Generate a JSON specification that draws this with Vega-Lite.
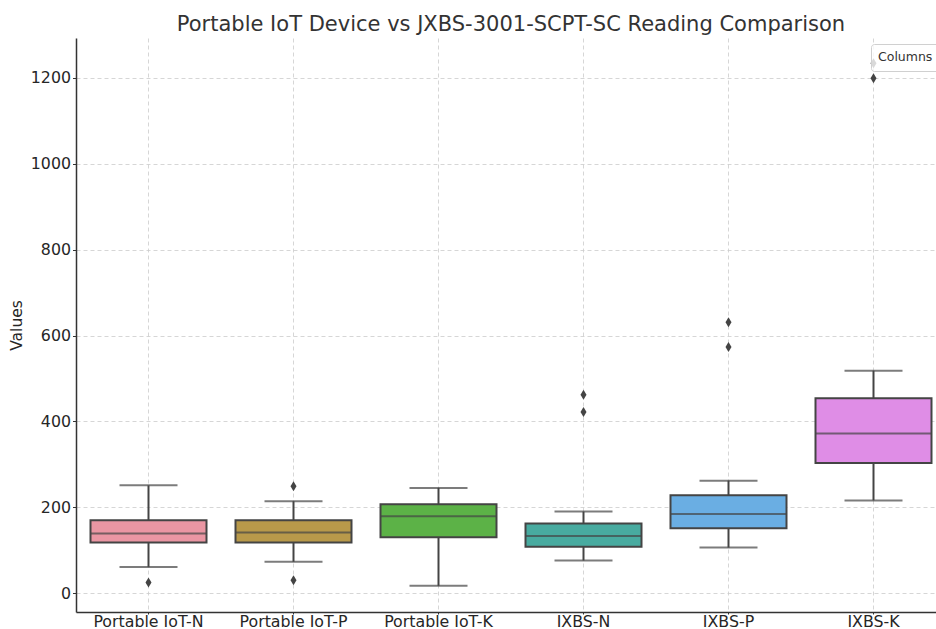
{
  "$schema": "https://vega.github.io/schema/vega-lite/v6.json",
  "width": 870,
  "height": 574,
  "padding": {"left": 9, "top": 14, "right": 0, "bottom": 0},
  "title": {"text": "Portable IoT Device vs JXBS-3001-SCPT-SC Reading Comparison", "fontSize": 21, "font": "DejaVu Sans", "fontWeight": "normal", "color": "#333333", "offset": 3},
  "config": {
    "font": "DejaVu Sans",
    "view": {"stroke": null},
    "axis": {"labelFont": "DejaVu Sans", "titleFont": "DejaVu Sans", "labelFontSize": 15.8, "titleFontSize": 15.5, "labelColor": "#262626", "titleColor": "#262626", "titleFontWeight": "normal", "gridColor": "#cccccc", "gridDash": [4, 3], "gridWidth": 0.8, "domainColor": "#333333", "domainWidth": 1.5, "tickColor": "#333333", "tickSize": 3.5, "tickWidth": 1}
  },
  "datasets": {
    "stats": [
      {"col": "Portable IoT-N", "lo": 61, "q1": 118, "med": 139, "q3": 170, "hi": 251},
      {"col": "Portable IoT-P", "lo": 73, "q1": 118, "med": 141, "q3": 170, "hi": 214},
      {"col": "Portable IoT-K", "lo": 17, "q1": 130, "med": 179, "q3": 207, "hi": 245},
      {"col": "IXBS-N", "lo": 76, "q1": 108, "med": 133, "q3": 162, "hi": 190},
      {"col": "IXBS-P", "lo": 106, "q1": 151, "med": 184, "q3": 228, "hi": 262},
      {"col": "IXBS-K", "lo": 216, "q1": 303, "med": 372, "q3": 454, "hi": 518}
    ],
    "outliers": [
      {"col": "Portable IoT-N", "value": 25},
      {"col": "Portable IoT-P", "value": 249},
      {"col": "Portable IoT-P", "value": 30},
      {"col": "IXBS-N", "value": 462},
      {"col": "IXBS-N", "value": 422},
      {"col": "IXBS-P", "value": 631},
      {"col": "IXBS-P", "value": 573},
      {"col": "IXBS-K", "value": 1199},
      {"col": "IXBS-K", "value": 1234}
    ]
  },
  "encoding": {
    "x": {"field": "col", "type": "nominal", "sort": null,
      "scale": {"domain": ["Portable IoT-N", "Portable IoT-P", "Portable IoT-K", "IXBS-N", "IXBS-P", "IXBS-K"], "paddingInner": 0, "paddingOuter": 0},
      "axis": {"title": null, "labelAngle": 0, "labelPadding": 0, "tickSize": 2, "bandPosition": 0.5, "grid": true}}
  },
  "layer": [
    {
      "data": {"name": "stats"},
      "mark": {"type": "rule", "color": "#444444", "strokeWidth": 2},
      "encoding": {
        "y": {"field": "lo", "type": "quantitative", "scale": {"domain": [-44, 1293], "nice": false, "zero": false},
          "axis": {"title": "Values", "format": "d", "values": [0, 200, 400, 600, 800, 1000, 1200], "labelPadding": 2, "titlePadding": 6, "grid": true}},
        "y2": {"field": "hi"}
      }
    },
    {
      "data": {"name": "stats"},
      "mark": {"type": "tick", "color": "#444444", "thickness": 2, "size": 58},
      "encoding": {"y": {"field": "lo", "type": "quantitative"}}
    },
    {
      "data": {"name": "stats"},
      "mark": {"type": "tick", "color": "#444444", "thickness": 2, "size": 58},
      "encoding": {"y": {"field": "hi", "type": "quantitative"}}
    },
    {
      "data": {"name": "stats"},
      "mark": {"type": "bar", "width": {"band": 0.8}, "stroke": "#444444", "strokeWidth": 2, "opacity": 1},
      "encoding": {
        "y": {"field": "q1", "type": "quantitative"},
        "y2": {"field": "q3"},
        "fill": {"field": "col", "type": "nominal", "sort": null,
          "scale": {"domain": ["Portable IoT-N", "Portable IoT-P", "Portable IoT-K", "IXBS-N", "IXBS-P", "IXBS-K"], "range": ["#ea96a3", "#b8994a", "#5cb247", "#48aba0", "#6aaee3", "#df8de6"]},
          "legend": {"title": "Columns", "values": [], "orient": "top-right", "offset": 6, "titleFontSize": 12.5, "titleFont": "DejaVu Sans", "titleFontWeight": "normal", "titleColor": "#333333", "titlePadding": 0, "labelFontSize": 0, "labelOpacity": 0, "symbolSize": 0, "symbolOpacity": 0, "symbolStrokeWidth": 0, "rowPadding": 0, "fillColor": "rgba(255,255,255,0.8)", "strokeColor": "#d0d0d0", "cornerRadius": 3, "padding": 7}}
      }
    },
    {
      "data": {"name": "stats"},
      "mark": {"type": "tick", "color": "#444444", "thickness": 2, "size": 116},
      "encoding": {"y": {"field": "med", "type": "quantitative"}}
    },
    {
      "data": {"name": "outliers"},
      "mark": {"type": "point", "filled": true, "color": "#444444", "opacity": 1, "size": 100, "shape": "M0,-1L0.6,0L0,1L-0.6,0Z"},
      "encoding": {"y": {"field": "value", "type": "quantitative"}}
    }
  ]
}
